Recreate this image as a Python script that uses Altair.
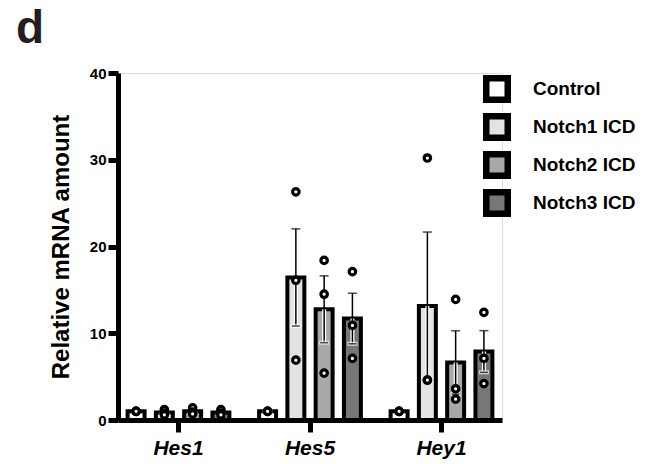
import altair as alt
import pandas as pd

genes = ["Hes1", "Hes5", "Hey1"]
groups = ["Control", "Notch1 ICD", "Notch2 ICD", "Notch3 ICD"]
colors = ["#ffffff", "#e3e3e3", "#a8a8a8", "#777777"]

# replicate values (3 per group)
hes1_vals = [[1.0, 1.0, 1.0], [1.2, 0.8, 0.6], [1.4, 0.9, 0.7], [1.2, 0.8, 0.6]]
hes5_vals = [[1.0, 1.0, 1.0], [26.3, 16.1, 6.9], [18.4, 14.5, 5.4], [17.1, 10.9, 7.1]]
hey1_vals = [[1.0, 1.0, 1.0], [30.2, 4.6, 4.6], [13.9, 3.6, 2.4], [12.4, 7.1, 4.2]]

rows = []
for gene, vals in zip(genes, [hes1_vals, hes5_vals, hey1_vals]):
    for grp, reps in zip(groups, vals):
        for v in reps:
            rows.append({"gene": gene, "group": grp, "value": v})
df = pd.DataFrame(rows)

FONT = "Liberation Sans"

x_enc = alt.X(
    "gene:N", sort=genes,
    scale=alt.Scale(paddingInner=0.14, paddingOuter=0.03),
    axis=alt.Axis(title=None, labelAngle=0, labelFont=FONT, labelFontSize=21,
                  labelFontWeight="bold", labelFontStyle="italic", labelColor="black",
                  labelPadding=5, tickSize=12, tickWidth=5, tickColor="black",
                  domainWidth=5, domainColor="black"),
)
xo_enc = alt.XOffset("group:N", sort=groups,
                     scale=alt.Scale(paddingInner=0.4, paddingOuter=0.2))

base = alt.Chart(df)

stats = base.transform_aggregate(
    mean="mean(value)", sd="stdev(value)", n="count()", groupby=["gene", "group"]
).transform_calculate(
    sem="datum.sd / sqrt(datum.n)",
    hi="datum.mean + datum.sd / sqrt(datum.n)",
    lo="datum.mean - datum.sd / sqrt(datum.n)",
)

y_enc = alt.Y(
    "mean:Q",
    scale=alt.Scale(domain=[0, 40], nice=False),
    axis=alt.Axis(title="Relative mRNA amount", values=[0, 10, 20, 30, 40],
                  labelFont=FONT, labelFontSize=15, labelFontWeight="bold",
                  labelColor="black", labelPadding=2, tickSize=10, tickWidth=5,
                  tickColor="black", domainWidth=5, domainColor="black", grid=False,
                  titleFont=FONT, titleFontSize=24, titleFontWeight="bold",
                  titleColor="black", titlePadding=16),
)

bars = stats.mark_bar(stroke="black", strokeWidth=4).encode(
    x=x_enc, xOffset=xo_enc, y=y_enc,
    fill=alt.Fill("group:N", sort=groups,
                  scale=alt.Scale(domain=groups, range=colors),
                  legend=alt.Legend(title=None, orient="none", legendX=365, legendY=2,
                                    symbolType="square", symbolSize=462,
                                    symbolStrokeColor="black", symbolStrokeWidth=6.5,
                                    labelFont=FONT, labelFontSize=19,
                                    labelFontWeight="bold", labelColor="black",
                                    labelOffset=22, rowPadding=-10, padding=0)),
)

low_halo = stats.mark_rule(color="white", strokeWidth=4).encode(
    x=x_enc, xOffset=xo_enc, y="lo:Q", y2="mean:Q")
err_rule = stats.mark_rule(color="black", strokeWidth=1.5).encode(
    x=x_enc, xOffset=xo_enc, y="lo:Q", y2="hi:Q")
cap_hi = stats.mark_tick(color="black", thickness=1.5, size=9).encode(
    x=x_enc, xOffset=xo_enc, y="hi:Q")
cap_lo_halo = stats.mark_tick(color="white", thickness=4, size=10).encode(
    x=x_enc, xOffset=xo_enc, y="lo:Q")
cap_lo = stats.mark_tick(color="black", thickness=1.5, size=8).encode(
    x=x_enc, xOffset=xo_enc, y="lo:Q")

points = base.mark_point(shape="circle", filled=False, fill="white", fillOpacity=1,
                         stroke="black", strokeWidth=3.2, size=42, opacity=1).encode(
    x=x_enc, xOffset=xo_enc, y=alt.Y("value:Q"))

chart = alt.layer(bars, low_halo, err_rule, cap_hi, cap_lo_halo, cap_lo, points).properties(
    width=384, height=347,
    autosize=alt.AutoSizeParams(type="none"),
    padding={"left": 118, "top": 73, "right": 161, "bottom": 44},
    title=alt.TitleParams("d", anchor="start", frame="group", fontSize=46,
                          fontWeight="bold", font=FONT, color="#231f20",
                          dx=-102, offset=13),
).configure_view(stroke=None).configure(background="white")

chart.save("out.html", embed_options={"renderer": "svg", "actions": False})
